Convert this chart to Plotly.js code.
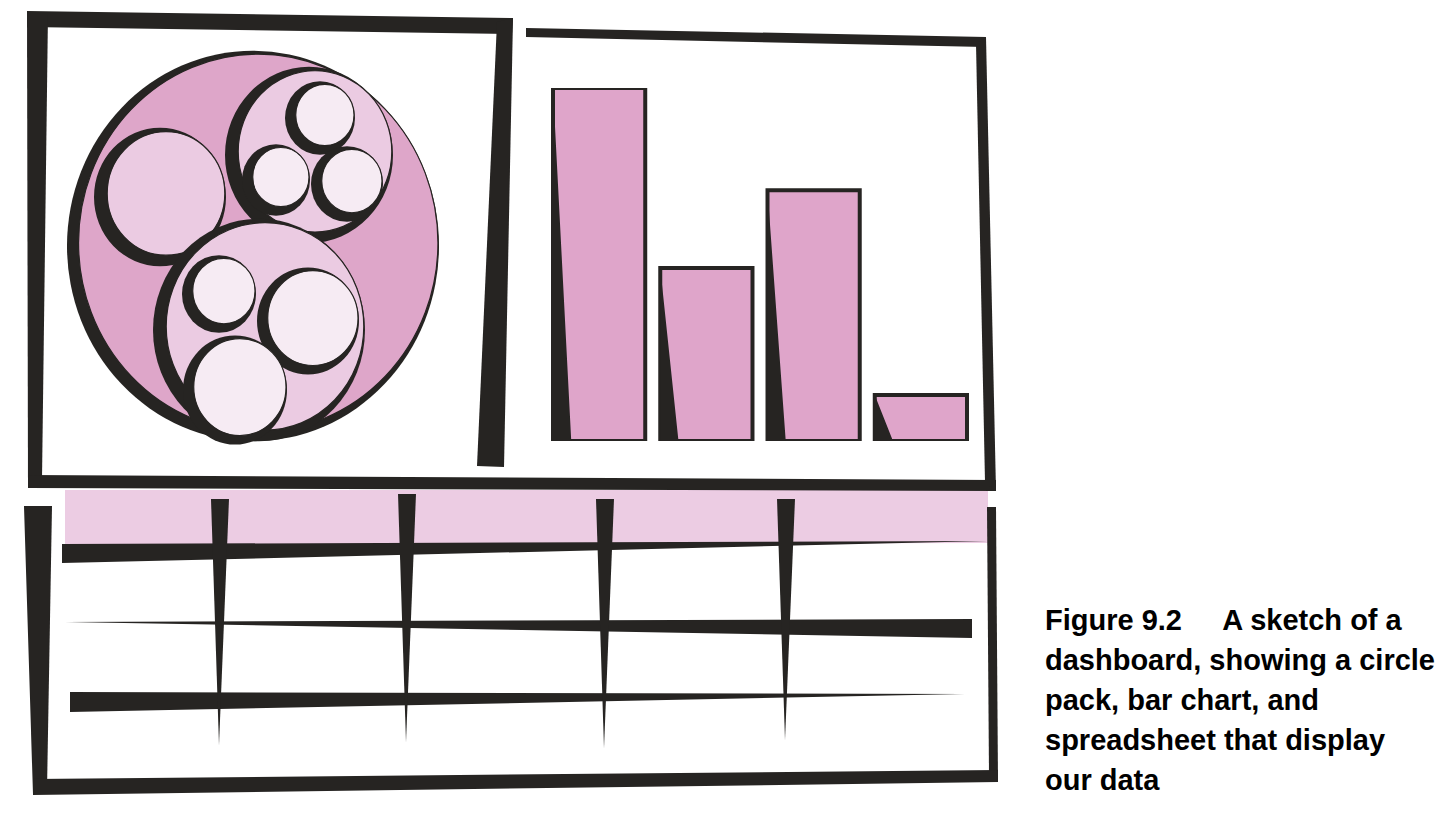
<!DOCTYPE html>
<html>
<head>
<meta charset="utf-8">
<script src="https://cdn.plot.ly/plotly-3.0.1.min.js"></script>
<style>
  html, body { margin: 0; padding: 0; background: #fff; }
  #dash { width: 1436px; height: 816px; }
</style>
</head>
<body>
<div id="dash"></div>
<script>
// circle pack (centre, radius in canvas px, depth in the hierarchy)
const packX = [253, 160, 309, 259, 320, 276, 347, 219, 308, 235];
const packY = [246, 197, 155, 330, 118, 180, 184, 294, 321, 390];
const packR = [186, 66, 84, 106, 35, 34, 36, 37, 51, 52];
const packDepth = [0, 1, 1, 1, 2, 2, 2, 2, 2, 2];

// bar chart
const barLabels = ["A", "B", "C", "D"];
const barValues = [100, 49, 71, 13];

// spreadsheet: column dividers and row rules
const colX = [220, 407, 605, 786];
const rowY = [553, 629, 702];

const captionLines = [
    "Figure 9.2\u00a0\u00a0\u00a0\u00a0\u00a0A sketch of a",
    "dashboard, showing a circle",
    "pack, bar chart, and",
    "spreadsheet that display",
    "our data"
];

const ink = "#262422";
const depthFill = ["#dea6c9", "#ebcbe2", "#f6ebf3"];
const depthStroke = [7, 8, 6.5];
const stretchY = 1.05;

const poly = (pts) => "M" + pts.map(p => p.join(",")).join(" L") + " Z";

let shapes = [];

// frames of the three panels (hand drawn strokes)
const frameStrokes = [
    [[27, 11], [513, 18], [512, 34], [27, 27]],
    [[27, 12], [48, 12], [42, 480], [28, 488]],
    [[497, 22], [513, 18], [504, 467], [477, 466]],
    [[28, 475], [996, 480], [996, 491], [28, 488]],
    [[526, 28], [986, 37], [985, 47], [526, 37]],
    [[976, 44], [986, 37], [996, 491], [985, 482]],
    [[24, 506], [52, 506], [47, 790], [33, 795]],
    [[987, 507], [996, 507], [998, 782], [989, 775]],
    [[33, 779], [998, 770], [998, 782], [33, 795]]
];

// spreadsheet header band
shapes.push({type: "path", xref: "x", yref: "y", layer: "below",
    path: poly([[65, 490], [988, 490], [988, 543], [65, 545]]),
    fillcolor: "#eccce3", line: {width: 0}});

frameStrokes.forEach((pts) => {
    shapes.push({type: "path", xref: "x", yref: "y", path: poly(pts),
        fillcolor: ink, line: {width: 0}});
});

// row rules, tapered like brush strokes
const rowTaper = [
    [[62, rowY[0] - 9], [988, rowY[0] - 12], [62, rowY[0] + 10]],
    [[65, rowY[1] - 7], [972, rowY[1] - 10], [972, rowY[1] + 9]],
    [[70, rowY[2] - 10], [965, rowY[2] - 8], [70, rowY[2] + 10]]
];
rowTaper.forEach((pts) => {
    shapes.push({type: "path", xref: "x", yref: "y", path: poly(pts),
        fillcolor: ink, line: {width: 0}});
});

// column dividers, thick at the top and running to a point
const colTop = [499, 494, 499, 499];
const colBottom = [745, 742, 748, 740];
colX.forEach((x, i) => {
    shapes.push({type: "path", xref: "x", yref: "y",
        path: poly([[x - 9, colTop[i]], [x + 9, colTop[i]], [x - 1, colBottom[i]]]),
        fillcolor: ink, line: {width: 0}});
});

// circle pack: dark disc, then the fill disc pushed up-right leaves a crescent
const order = packX.map((_, i) => i).sort((a, b) => packDepth[a] - packDepth[b]);
order.forEach((i) => {
    const cx = packX[i], cy = packY[i], r = packR[i];
    const t = depthStroke[packDepth[i]];
    shapes.push({type: "circle", xref: "x", yref: "y",
        x0: cx - r, x1: cx + r, y0: cy - r * stretchY, y1: cy + r * stretchY,
        fillcolor: ink, line: {width: 0}});
    const fx = cx + 0.75 * t, fy = cy - 0.45 * t, fr = r - 0.9 * t;
    shapes.push({type: "circle", xref: "x", yref: "y",
        x0: fx - fr, x1: fx + fr, y0: fy - fr * stretchY, y1: fy + fr * stretchY,
        fillcolor: depthFill[packDepth[i]], line: {color: ink, width: 1.2}});
});

const barX = barLabels.map((_, i) => i);
const half = 0.43;
let wedgeX = [], wedgeY = [];
barValues.forEach((v, i) => {
    wedgeX.push(i - half, i - half, i - half + 0.17, i - half, null);
    wedgeY.push(0, v, 0, 0, null);
});

const barTrace = {
    type: "bar", x: barX, y: barValues, xaxis: "x2", yaxis: "y2",
    marker: {color: "#dfa5ca", line: {color: ink, width: 4}},
    hoverinfo: "skip", showlegend: false
};

const wedgeTrace = {
    type: "scatter", mode: "lines", x: wedgeX, y: wedgeY, xaxis: "x2", yaxis: "y2",
    fill: "toself", fillcolor: ink, line: {width: 0, color: ink},
    hoverinfo: "skip", showlegend: false
};

const anchorTrace = {
    type: "scatter", x: [0], y: [0], mode: "markers",
    marker: {opacity: 0}, hoverinfo: "skip", showlegend: false
};

const annotations = captionLines.map((txt, i) => ({
    xref: "x", yref: "y", x: 1043, y: 620 + i * 40,
    xanchor: "left", yanchor: "middle", showarrow: false, align: "left",
    text: txt,
    font: {family: "Liberation Sans, Arial, sans-serif", size: 29, color: "#000", weight: 700}
}));

const hidden = {visible: false, fixedrange: true, showgrid: false, zeroline: false};

const layout = {
    width: 1436, height: 816,
    margin: {l: 0, r: 0, t: 0, b: 0},
    paper_bgcolor: "#fff", plot_bgcolor: "rgba(0,0,0,0)",
    showlegend: false,
    xaxis: Object.assign({range: [0, 1436], domain: [0, 1]}, hidden),
    yaxis: Object.assign({range: [816, 0], domain: [0, 1]}, hidden),
    xaxis2: Object.assign({range: [-0.5, 3.5], domain: [545.5 / 1436, 974.5 / 1436], anchor: "y2",
        tickvals: barX, ticktext: barLabels}, hidden),
    yaxis2: Object.assign({range: [0, 100], domain: [(816 - 441) / 816, (816 - 88) / 816], anchor: "x2"}, hidden),
    bargap: 0.14,
    shapes: shapes,
    annotations: annotations
};

Plotly.newPlot("dash", [anchorTrace, barTrace, wedgeTrace], layout, {displayModeBar: false, staticPlot: true});
</script>
</body>
</html>
